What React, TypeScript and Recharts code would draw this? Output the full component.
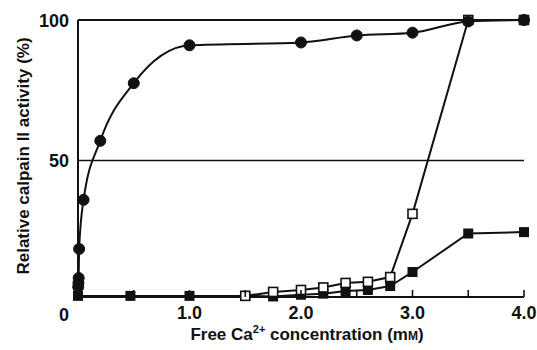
import React from 'react';
import { LineChart, Line, XAxis, YAxis, ReferenceLine } from 'recharts';

const circleX = [0.002, 0.004, 0.006, 0.01, 0.05, 0.2, 0.5, 1.0, 2.0, 2.5, 3.0, 3.5, 4.0];
const circleY = [5, 6.4, 8.2, 18.5, 36, 57, 77.5, 91, 92, 94.5, 95.5, 99.5, 100];

const filledX = [0, 0.47, 1.0, 1.5, 1.75, 2.0, 2.2, 2.4, 2.6, 2.8, 3.0, 3.5, 4.0];
const filledY = [1.8, 1.8, 1.8, 1.8, 1.6, 2.2, 2.6, 3.5, 3.9, 5.3, 10.3, 24, 24.5];

const openX = [1.5, 1.75, 2.0, 2.2, 2.4, 2.6, 2.8, 3.0, 3.5, 4.0];
const openY = [1.8, 3.2, 3.9, 4.8, 6.4, 6.8, 8.5, 31, 100, 100];

const xTicks = [0, 0.5, 1, 1.5, 2, 2.5, 3, 3.5, 4];
const xLabels = ['', '', '1.0', '', '2.0', '', '3.0', '', '4.0'];
const yTicks = [50, 100];

const toRows = (xs: number[], ys: number[]) => xs.map((x, i) => ({ x, y: ys[i] }));
const circles = toRows(circleX, circleY);
const filled = toRows(filledX, filledY);
const open = toRows(openX, openY);

const ink = '#111';
const font = '"Liberation Sans", Arial, sans-serif';

const XTick = (props: any) => {
  const { x, y, payload, index } = props;
  const label = xLabels[xTicks.indexOf(payload.value)] ?? '';
  return (
    <g>
      {payload.value > 0 && <line x1={x} x2={x} y1={y} y2={y - 7} stroke={ink} strokeWidth={1.6} />}
      {index === 0 && (
        <text x={x - 14} y={y + 24} textAnchor="middle" fontSize={18} fontWeight="bold" fill={ink} fontFamily={font}>
          0
        </text>
      )}
      {label && (
        <text x={x} y={y + 22} textAnchor="middle" fontSize={18} fontWeight="bold" fill={ink} fontFamily={font}>
          {label}
        </text>
      )}
    </g>
  );
};

const YTick = (props: any) => {
  const { x, y, payload } = props;
  return (
    <text x={x - 9} y={y + 7} textAnchor="end" fontSize={18} fontWeight="bold" fill={ink} fontFamily={font}>
      {payload.value}
    </text>
  );
};

const FilledSquare = (props: any) => {
  const { cx, cy, key } = props;
  return <rect key={key} x={cx - 5} y={cy - 5} width={10} height={10} fill={ink} />;
};

const OpenSquare = (props: any) => {
  const { cx, cy, key } = props;
  return <rect key={key} x={cx - 4.5} y={cy - 4.5} width={9} height={9} fill="#fff" stroke={ink} strokeWidth={1.6} />;
};

export default function App() {
  return (
    <div style={{ width: 537, height: 350, background: '#fff' }}>
      <style>{'body{margin:0}'}</style>
      <LineChart width={537} height={350} margin={{ top: 20, right: 13, bottom: 0, left: 0 }}>
        <XAxis
          type="number"
          dataKey="x"
          domain={[0, 4]}
          ticks={xTicks}
          tick={<XTick />}
          tickLine={false}
          tickSize={0}
          tickMargin={0}
          height={53}
          stroke={ink}
          strokeWidth={2}
        />
        <YAxis
          type="number"
          dataKey="y"
          domain={[1.4, 100]}
          ticks={yTicks}
          tick={<YTick />}
          tickLine={false}
          tickSize={0}
          tickMargin={0}
          width={78}
          stroke={ink}
          strokeWidth={2}
        />
        <ReferenceLine y={100} stroke={ink} strokeWidth={2} />
        <ReferenceLine y={50} stroke={ink} strokeWidth={1.6} />
        <Line
          data={filled}
          dataKey="y"
          type="linear"
          stroke={ink}
          strokeWidth={2}
          dot={<FilledSquare />}
          isAnimationActive={false}
        />
        <Line
          data={open}
          dataKey="y"
          type="linear"
          stroke={ink}
          strokeWidth={2}
          dot={<OpenSquare />}
          isAnimationActive={false}
        />
        <Line
          data={circles}
          dataKey="y"
          type="monotone"
          stroke={ink}
          strokeWidth={2}
          dot={{ r: 5.5, fill: ink, stroke: ink, strokeWidth: 1 }}
          isAnimationActive={false}
        />
        <text
          x={29}
          y={156}
          transform="rotate(-90 29 156)"
          textAnchor="middle"
          fontSize={17}
          fontWeight="bold"
          fill={ink}
          fontFamily={font}
        >
          Relative calpain II activity (%)
        </text>
        <text x={307} y={340} textAnchor="middle" fontSize={17} fontWeight="bold" fill={ink} fontFamily={font}>
          Free Ca<tspan fontSize={11} dy={-7}>2+</tspan>
          <tspan dy={7}> concentration (m</tspan>
          <tspan fontSize={12}>M</tspan>
          <tspan>)</tspan>
        </text>
      </LineChart>
    </div>
  );
}
